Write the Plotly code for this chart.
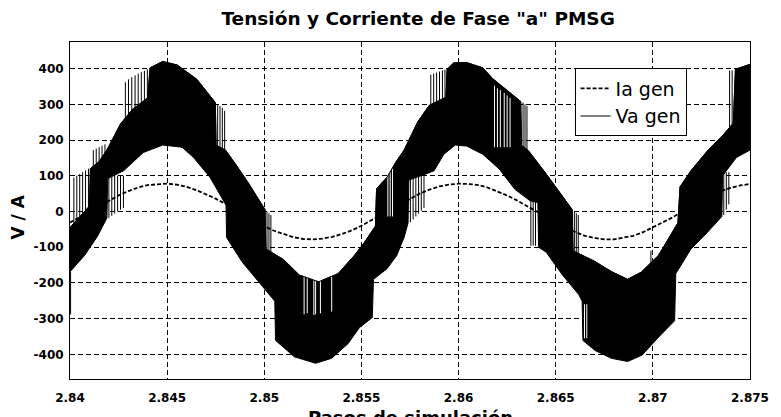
import plotly.graph_objects as go

# ---------------- data ----------------
title_text = 'Tensión y Corriente de Fase "a" PMSG'
x_label = "Pasos de simulación"
y_label = "V / A"

x_tick_vals = [2.84, 2.845, 2.85, 2.855, 2.86, 2.865, 2.87, 2.875]
x_tick_text = ["2.84", "2.845", "2.85", "2.855", "2.86", "2.865", "2.87", "2.875"]
y_tick_vals = [-400, -300, -200, -100, 0, 100, 200, 300, 400]
y_tick_text = ["-400", "-300", "-200", "-100", "0", "100", "200", "300", "400"]

# Ia gen (dashed sinusoid)
t_ia = [2.8400, 2.8405, 2.8410, 2.8415, 2.8420, 2.8425, 2.8430, 2.8435, 2.8440, 2.8445,
        2.8450, 2.8455, 2.8460, 2.8465, 2.8470, 2.8475, 2.8480, 2.8485, 2.8490, 2.8495,
        2.8500, 2.8505, 2.8510, 2.8515, 2.8520, 2.8525, 2.8530, 2.8535, 2.8540, 2.8545,
        2.8550, 2.8555, 2.8560, 2.8565, 2.8570, 2.8575, 2.8580, 2.8585, 2.8590, 2.8595,
        2.8600, 2.8605, 2.8610, 2.8615, 2.8620, 2.8625, 2.8630, 2.8635, 2.8640, 2.8645,
        2.8650, 2.8655, 2.8660, 2.8665, 2.8670, 2.8675, 2.8680, 2.8685, 2.8690, 2.8695,
        2.8700, 2.8705, 2.8710, 2.8715, 2.8720, 2.8725, 2.8730, 2.8735, 2.8740, 2.8745,
        2.8750]
ia_gen = [-31, -16, 0, 16, 31, 45, 57, 67, 74, 77,
          78, 75, 69, 60, 49, 36, 21, 5, -11, -27,
          -41, -54, -64, -72, -77, -78, -76, -71, -63, -53,
          -40, -25, -10, 6, 22, 37, 50, 61, 70, 75,
          78, 77, 74, 67, 57, 45, 31, 16, 0, -16,
          -31, -45, -57, -68, -74, -78, -78, -74, -68, -58,
          -45, -32, -17, -1, 15, 30, 44, 57, 66, 73,
          77]

# Va gen: upper envelope of the switching band
va_hi_t = [2.84000, 2.84100, 2.84105, 2.84150, 2.84190, 2.84260, 2.84320, 2.84400, 2.84412, 2.84477,
           2.84552, 2.84653, 2.84720, 2.84748, 2.84752, 2.84800, 2.84853, 2.84920, 2.85004, 2.85008,
           2.85100, 2.85180, 2.85280, 2.85380, 2.85464, 2.85515, 2.85572, 2.85578, 2.85632, 2.85682,
           2.85720, 2.85790, 2.85849, 2.85935, 2.85941, 2.85975, 2.86042, 2.86125, 2.86175, 2.86284,
           2.86320, 2.86324, 2.86360, 2.86451, 2.86535, 2.86585, 2.86589, 2.86702, 2.86786, 2.86870,
           2.86940, 2.87029, 2.87129, 2.87140, 2.87196, 2.87280, 2.87363, 2.87414, 2.87425, 2.87500]
va_hi = [-45, 15, 120, 140, 172, 245, 285, 318, 402, 420,
         410, 370, 324, 305, 185, 172, 132, 78, 5, -105,
         -135, -178, -197, -174, -123, -87, -41, 64, 96, 142,
         172, 251, 297, 320, 398, 416, 417, 402, 372, 324,
         308, 185, 170, 105, 41, 5, -110, -140, -168, -190,
         -170, -123, -32, 69, 114, 169, 215, 247, 398, 412]

# Va gen: lower envelope of the switching band
va_lo_t = [2.84000, 2.84075, 2.84142, 2.84190, 2.84194, 2.84276, 2.84377, 2.84477, 2.84577, 2.84636,
           2.84720, 2.84803, 2.84806, 2.84887, 2.84970, 2.85054, 2.85058, 2.85155, 2.85264, 2.85347,
           2.85431, 2.85490, 2.85556, 2.85562, 2.85632, 2.85682, 2.85720, 2.85740, 2.85744, 2.85832,
           2.85874, 2.85924, 2.85983, 2.86042, 2.86125, 2.86209, 2.86290, 2.86368, 2.86408, 2.86412,
           2.86451, 2.86535, 2.86619, 2.86636, 2.86640, 2.86702, 2.86786, 2.86870, 2.86945, 2.87029,
           2.87112, 2.87118, 2.87196, 2.87280, 2.87355, 2.87359, 2.87430, 2.87500]
va_lo = [-169, -123, -69, -18, 92, 114, 165, 186, 180, 151,
         96, 18, -73, -142, -197, -251, -361, -407, -425, -411,
         -370, -325, -297, -190, -160, -123, -72, -32, 88, 105,
         114, 160, 186, 183, 160, 119, 62, 30, 25, -100,
         -114, -178, -233, -251, -361, -389, -411, -420, -402, -352,
         -306, -174, -105, -59, -14, 100, 151, 172]

# Isolated switching strokes (black) sticking out of the band
spike_t = [2.84003,
           2.84020, 2.84035, 2.84050, 2.84065, 2.84080, 2.84095,
           2.84120, 2.84135, 2.84150, 2.84165, 2.84180,
           2.84200, 2.84215, 2.84230, 2.84245, 2.84260, 2.84275,
           2.84285, 2.84301, 2.84318, 2.84335, 2.84351, 2.84367, 2.84383, 2.84398,
           2.84760, 2.84772, 2.84784, 2.84796,
           2.85014, 2.85024, 2.85034,
           2.85752, 2.85766, 2.85780, 2.85794, 2.85808, 2.85822,
           2.85857, 2.85872, 2.85887, 2.85902, 2.85917, 2.85930,
           2.86332, 2.86342, 2.86352,
           2.86372, 2.86384, 2.86396,
           2.86596, 2.86606, 2.86616,
           2.86990, 2.87065,
           2.87365, 2.87378, 2.87391,
           2.87395, 2.87408]
spike_lo = [-288,
            -40, -40, -40, -40, -40, -40,
            110, 110, 110, 110, 110,
            -18, -12, -6, 0, 5, 10,
            250, 250, 250, 250, 250, 250, 250, 250,
            170, 170, 170, 170,
            -120, -120, -120,
            -30, -22, -14, -6, 2, 10,
            280, 280, 280, 280, 280, 280,
            160, 160, 160,
            -96, -96, -96,
            -120, -120, -120,
            -160, -140,
            -10, 5, 20,
            230, 230]
spike_hi = [-169,
            95, 100, 105, 110, 115, 120,
            172, 176, 180, 184, 188,
            100, 100, 100, 100, 100, 100,
            362, 370, 376, 381, 386, 390, 394, 398,
            300, 295, 290, 282,
            0, -5, -10,
            100, 100, 100, 100, 100, 100,
            383, 386, 389, 392, 395, 397,
            305, 300, 295,
            30, 30, 30,
            0, -5, -10,
            -110, -100,
            110, 110, 110,
            395, 395]

# Missing switching strokes (white gaps) inside the band
gap_t = [2.85205, 2.85221, 2.85255, 2.85264, 2.85289, 2.85347,
         2.85636, 2.85648, 2.85660,
         2.86185, 2.86200, 2.86215, 2.86235, 2.86250, 2.86265,
         2.86648, 2.86660]
gap_lo = [-288, -285, -290, -288, -285, -280,
          -14, -14, -14,
          180, 180, 180, 180, 180, 180,
          -355, -355]
gap_hi = [-150, -150, -150, -150, -150, -150,
          120, 120, 120,
          352, 345, 340, 332, 325, 318,
          -260, -260]

# ---------------- figure ----------------
FONT = "DejaVu Sans"

def segments(ts, los, his):
    xs, ys = [], []
    for t, lo, hi in zip(ts, los, his):
        xs += [t, t, None]
        ys += [lo, hi, None]
    return xs, ys

fig = go.Figure()

fig.add_trace(go.Scatter(
    x=t_ia, y=ia_gen, mode="lines", name="Ia gen",
    line=dict(color="black", width=1.8, dash="4px,2px"),
    hoverinfo="skip"))

band_x = va_hi_t + va_lo_t[::-1]
band_y = va_hi + va_lo[::-1]
fig.add_trace(go.Scatter(
    x=band_x, y=band_y, mode="lines", fill="toself", fillcolor="black",
    line=dict(color="black", width=1), showlegend=False, hoverinfo="skip"))

sx, sy = segments(spike_t, spike_lo, spike_hi)
fig.add_trace(go.Scatter(x=sx, y=sy, mode="lines", line=dict(color="black", width=1),
                         showlegend=False, hoverinfo="skip"))

gx, gy = segments(gap_t, gap_lo, gap_hi)
fig.add_trace(go.Scatter(x=gx, y=gy, mode="lines", line=dict(color="white", width=1),
                         showlegend=False, hoverinfo="skip"))

fig.add_trace(go.Scatter(
    x=va_hi_t, y=va_hi, mode="lines", name="Va gen",
    line=dict(color="black", width=1), hoverinfo="skip"))

fig.update_layout(
    width=781, height=417,
    margin=dict(l=70, r=14, t=42, b=31),
    paper_bgcolor="white", plot_bgcolor="white",
    title=dict(text=title_text, x=0.512, xref="paper", y=1 - 19 / 417, yref="container",
               xanchor="center", yanchor="middle",
               font=dict(family=FONT, size=18.5, color="black", weight="bold")),
    showlegend=True,
    legend=dict(x=0.742, y=0.9215, xanchor="left", yanchor="top",
                bgcolor="white", bordercolor="black", borderwidth=1,
                font=dict(family=FONT, size=19, color="black"),
                itemwidth=30, tracegroupgap=0,
                entrywidth=90, entrywidthmode="pixels"),
    xaxis=dict(range=[2.84, 2.875], tickmode="array", tickvals=x_tick_vals, ticktext=x_tick_text,
               showgrid=True, gridcolor="black", gridwidth=1.2, griddash="5px,3px",
               showline=True, linecolor="black", linewidth=1, mirror=True,
               ticks="", zeroline=False, ticklabeloverflow="allow", ticklabelstandoff=8,
               tickfont=dict(family=FONT, size=12, color="black", weight="bold")),
    yaxis=dict(range=[-469, 474.5], tickmode="array", tickvals=y_tick_vals, ticktext=y_tick_text,
               showgrid=True, gridcolor="black", gridwidth=1.2, griddash="5px,3px",
               showline=True, linecolor="black", linewidth=1, mirror=True,
               ticks="", zeroline=False, ticklabelstandoff=3,
               tickfont=dict(family=FONT, size=12, color="black", weight="bold")),
    annotations=[
        dict(text=x_label, xref="paper", yref="paper", x=0.5, y=-0.076,
             xanchor="center", yanchor="top", showarrow=False,
             font=dict(family=FONT, size=18, color="black", weight="bold")),
        dict(text=y_label, xref="paper", yref="paper", x=-0.076, y=0.48,
             xanchor="center", yanchor="middle", showarrow=False, textangle=-90,
             font=dict(family=FONT, size=17, color="black", weight="bold")),
    ],
)

# the page body has a default 8px margin; remove it so the figure sits at the window's corner
fig.write_html("out.html", config={"displayModeBar": False},
               post_script="document.body.style.margin='0px';")
